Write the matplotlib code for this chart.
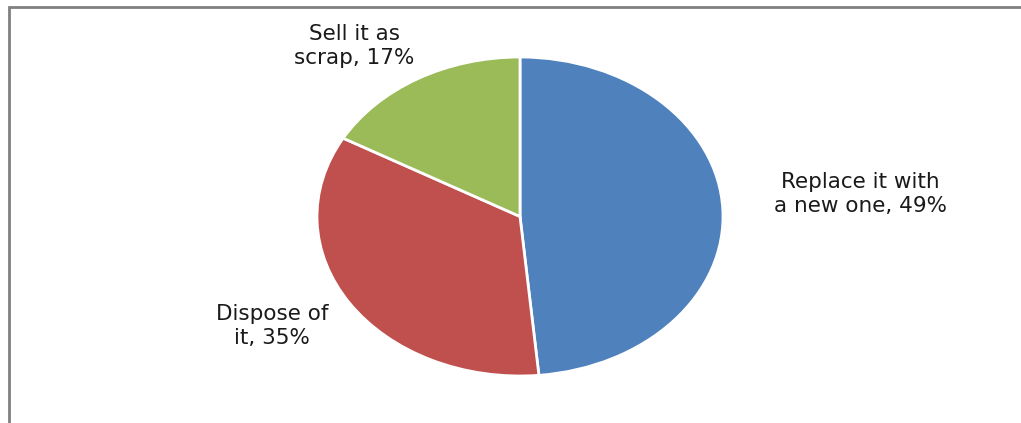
import matplotlib
matplotlib.use("Agg")
import matplotlib.pyplot as plt

labels = ["Replace it with\na new one", "Dispose of\nit", "Sell it as\nscrap"]
shares = [49, 35, 17]
colors = ["#4F81BD", "#C0504D", "#9BBB59"]

W, H = 1021, 423
fig = plt.figure(figsize=(W / 100, H / 100), dpi=100)

# pie stretched into an ellipse, axes in pixel units
ax = fig.add_axes([317 / W, 1 - 376 / H, 406 / W, 319 / H])
ax.pie(shares, colors=colors, startangle=90, counterclock=False,
       wedgeprops=dict(edgecolor="white", linewidth=2))
ax.set_aspect("auto")
ax.set_xlim(-1, 1)
ax.set_ylim(-1, 1)

# label placement (pixels from top-left)
label_pos = [(860, 194), (272, 326), (354, 46)]
for text, val, (px, py) in zip(labels, shares, label_pos):
    fig.text(px / W, 1 - py / H, f"{text}, {val}%", ha="center", va="center",
             fontsize=15.5, family="DejaVu Sans", color="#1a1a1a", linespacing=1.2)

# chart frame, only the top and left edges fall inside the canvas
frame = plt.Rectangle((8.5 / W, -0.1), 1.2, 1 - 7 / H + 0.1, transform=fig.transFigure,
                      fill=False, edgecolor="#808080", linewidth=2)
fig.add_artist(frame)

fig.savefig("out.png", dpi=100)
